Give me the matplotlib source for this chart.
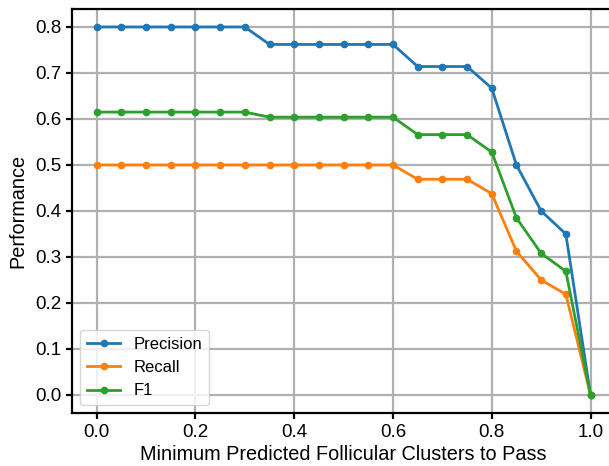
import numpy as np
import matplotlib
matplotlib.use("Agg")
import matplotlib.pyplot as plt

plt.rcParams['font.family'] = ['Liberation Sans', 'DejaVu Sans']

# -----------------------------
# Data
# -----------------------------
thresholds = [0.0, 0.05, 0.1, 0.15, 0.2, 0.25, 0.3, 0.35, 0.4, 0.45, 0.5,
              0.55, 0.6, 0.65, 0.7, 0.75, 0.8, 0.85, 0.9, 0.95, 1.0]
precision = [0.8, 0.8, 0.8, 0.8, 0.8, 0.8, 0.8, 0.762, 0.762, 0.762, 0.762,
             0.762, 0.762, 0.714, 0.714, 0.714, 0.667, 0.5, 0.4, 0.35, 0.0]
recall = [0.5, 0.5, 0.5, 0.5, 0.5, 0.5, 0.5, 0.5, 0.5, 0.5, 0.5,
          0.5, 0.5, 0.469, 0.469, 0.469, 0.4375, 0.3125, 0.25, 0.219, 0.0]
f1 = [0.615, 0.615, 0.615, 0.615, 0.615, 0.615, 0.615, 0.604, 0.604, 0.604, 0.604,
      0.604, 0.604, 0.566, 0.566, 0.566, 0.528, 0.385, 0.308, 0.269, 0.0]

# -----------------------------
# Plot
# -----------------------------
fig = plt.figure(figsize=(6.09, 4.66), dpi=100)
ax = fig.add_axes([0.1182, 0.1129, 0.892, 0.8687])

ax.plot(thresholds, precision, marker='o', markersize=4.5, linewidth=2, label="Precision")
ax.plot(thresholds, recall, marker='o', markersize=4.5, linewidth=2, label="Recall")
ax.plot(thresholds, f1, marker='o', markersize=4.5, linewidth=2, label="F1")

ax.grid(True, color='#b0b0b0', linewidth=1.6)
ax.set_axisbelow(True)
for s in ax.spines.values():
    s.set_linewidth(1.6)
ax.tick_params(labelsize=13.5, width=1.6, length=4)

ax.set_xlabel("Minimum Predicted Follicular Clusters to Pass", fontsize=14.3, labelpad=3)
ax.set_ylabel("Performance", fontsize=14.3, labelpad=6)
ax.legend(loc='lower left', fontsize=12)

fig.savefig("out.png", dpi=100)
